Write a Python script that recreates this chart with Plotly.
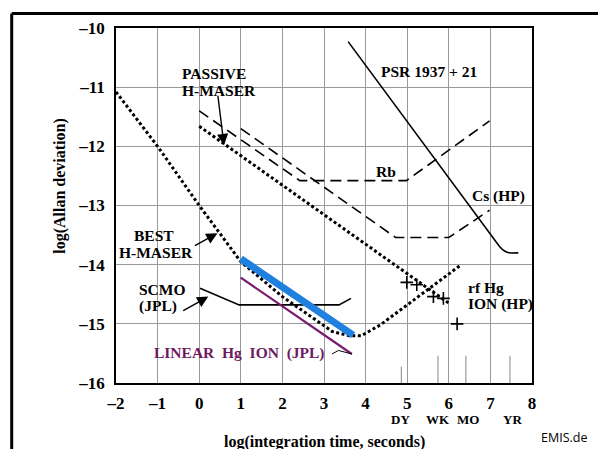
import plotly.graph_objects as go

# ---- data ----
best_maser_x = [-2, -1, 0, 1, 2, 3.2, 3.6, 3.9, 4.35, 6.3]
best_maser_y = [-11.08, -12.0, -13.0, -13.95, -14.54, -15.13, -15.2, -15.2, -15.02, -14.0]

passive_x = [0, 6.0]
passive_y = [-11.66, -14.65]

rb_x = [0, 2.42, 4.98, 6.98]
rb_y = [-11.40, -12.58, -12.58, -11.57]

cs_x = [1, 4.72, 6.0, 6.98]
cs_y = [-11.70, -13.54, -13.54, -13.08]

psr_x = [3.58, 7.21, 7.30, 7.44, 7.67]
psr_y = [-10.23, -13.685, -13.75, -13.80, -13.80]

scmo_x = [0.02, 0.96, 3.36, 3.65]
scmo_y = [-14.40, -14.68, -14.68, -14.57]

blue_x = [1.0, 3.7]
blue_y = [-13.9, -15.19]

linear_x = [1.0, 3.67]
linear_y = [-14.22, -15.51]

leader_x = [3.19, 3.35, 3.67]
leader_y = [-15.51, -15.45, -15.51]

rfhg_x = [4.99, 5.23, 5.63, 5.87, 6.2]
rfhg_y = [-14.30, -14.34, -14.54, -14.57, -15.0]

xticks = [-2, -1, 0, 1, 2, 3, 4, 5, 6, 7, 8]
xticklabels = ["–2", "–1", "0", "1", "2", "3", "4", "5", "6", "7", "8"]
yticks = [-16, -15, -14, -13, -12, -11, -10]
yticklabels = ["–16", "–15", "–14", "–13", "–12", "–11", "–10"]

period_names = ["DY", "WK", "MO", "YR"]
period_x = [4.86, 5.74, 6.41, 7.47]
period_top = [-15.72, -15.54, -15.54, -15.54]
period_label_x = [4.84, 5.74, 6.47, 7.52]

labels = [
    ("PASSIVE", -0.46, -10.77, "left"),
    ("H-MASER", -0.46, -11.06, "left"),
    ("PSR 1937 + 21", 5.53, -10.74, "center"),
    ("Rb", 4.49, -12.43, "center"),
    ("Cs (HP)", 7.19, -12.84, "center"),
    ("BEST", -1.08, -13.51, "center"),
    ("H-MASER", -1.05, -13.80, "center"),
    ("SCMO", -1.49, -14.42, "left"),
    ("(JPL)", -1.49, -14.70, "left"),
    ("rf Hg", 6.42, -14.39, "left"),
    ("ION (HP)", 6.42, -14.66, "left"),
]

arrows = [  # (tail_x, tail_y, head_x, head_y)
    (0.445, -11.12, 0.596, -11.98),
    (-0.14, -13.69, 0.44, -13.47),
    (-0.42, -14.79, 0.22, -14.54),
]

SERIF = "Liberation Serif"
fig = go.Figure()

# short period marker lines at bottom
for px, pt in zip(period_x, period_top):
    fig.add_trace(go.Scatter(x=[px, px], y=[-16, pt], mode="lines",
                             line=dict(color="#9a9a9a", width=1.2),
                             hoverinfo="skip", showlegend=False))

fig.add_trace(go.Scatter(x=rb_x, y=rb_y, mode="lines",
                         line=dict(color="black", width=1.6, dash="11px,6px"), showlegend=False))
fig.add_trace(go.Scatter(x=cs_x, y=cs_y, mode="lines",
                         line=dict(color="black", width=1.6, dash="11px,6px"), showlegend=False))
fig.add_trace(go.Scatter(x=psr_x, y=psr_y, mode="lines", line_shape="spline",
                         line=dict(color="black", width=1.6, smoothing=0.3), showlegend=False))
fig.add_trace(go.Scatter(x=scmo_x, y=scmo_y, mode="lines",
                         line=dict(color="black", width=1.6), showlegend=False))
fig.add_trace(go.Scatter(x=passive_x, y=passive_y, mode="lines",
                         line=dict(color="black", width=3, dash="3px,2.5px"), showlegend=False))
fig.add_trace(go.Scatter(x=best_maser_x, y=best_maser_y, mode="lines",
                         line=dict(color="black", width=3, dash="3px,2.5px"), showlegend=False))
fig.add_trace(go.Scatter(x=linear_x, y=linear_y, mode="lines",
                         line=dict(color="#7a1a6e", width=2.2), showlegend=False))
fig.add_trace(go.Scatter(x=blue_x, y=blue_y, mode="lines",
                         line=dict(color="#1f80e0", width=7), showlegend=False))
fig.add_trace(go.Scatter(x=leader_x, y=leader_y, mode="lines",
                         line=dict(color="black", width=1), showlegend=False))
fig.add_trace(go.Scatter(x=rfhg_x, y=rfhg_y, mode="markers",
                         marker=dict(symbol="cross-thin", size=9,
                                     line=dict(color="black", width=1.6)),
                         showlegend=False))

annotations = []
for text, x, y, anchor in labels:
    annotations.append(dict(x=x, y=y, xref="x", yref="y", text="<b>%s</b>" % text,
                            showarrow=False, xanchor=anchor, yanchor="middle",
                            font=dict(family=SERIF, size=15.5, color="black")))
annotations.append(dict(x=0.98, y=-15.49, xref="x", yref="y",
                        text="<b>LINEAR\u00a0\u00a0Hg\u00a0\u00a0ION\u00a0\u00a0(JPL)</b>",
                        showarrow=False, xanchor="center", yanchor="middle",
                        font=dict(family=SERIF, size=15.5, color="#6e1a62")))
for tx, ty, hx, hy in arrows:
    annotations.append(dict(x=hx, y=hy, ax=tx, ay=ty, xref="x", yref="y",
                            axref="x", ayref="y", text="", showarrow=True,
                            arrowhead=2, arrowsize=1.6, arrowwidth=1.4,
                            arrowcolor="black"))
for name, lx in zip(period_names, period_label_x):
    annotations.append(dict(x=lx, y=-0.102, xref="x", yref="paper", text="<b>%s</b>" % name,
                            showarrow=False, xanchor="center", yanchor="middle",
                            font=dict(family=SERIF, size=13, color="black")))
annotations.append(dict(x=-0.135, y=0.555, xref="paper", yref="paper",
                        text="<b>log(Allan deviation)</b>", textangle=-90,
                        showarrow=False, xanchor="center", yanchor="middle",
                        font=dict(family=SERIF, size=16, color="black")))
annotations.append(dict(x=0.502, y=-0.165, xref="paper", yref="paper",
                        text="<b>log(integration time, seconds)</b>",
                        showarrow=False, xanchor="center", yanchor="middle",
                        font=dict(family=SERIF, size=16, color="black")))
annotations.append(dict(x=1.078, y=-0.153, xref="paper", yref="paper",
                        text="EMIS.de", showarrow=False, xanchor="center", yanchor="middle",
                        font=dict(family="Open Sans", size=12.5, color="black")))

# outer frame (open at the bottom)
fx0, fx1, fy1, fy0 = -0.2507, 1.1743, 1.0408, -0.3
frame = [
    dict(type="line", xref="paper", yref="paper", x0=fx0, x1=fx0, y0=fy0, y1=fy1,
         line=dict(color="black", width=3)),
    dict(type="line", xref="paper", yref="paper", x0=fx1, x1=fx1, y0=fy0, y1=fy1,
         line=dict(color="black", width=3)),
    dict(type="line", xref="paper", yref="paper", x0=fx0, x1=fx1, y0=fy1, y1=fy1,
         line=dict(color="black", width=3)),
]

# the page body keeps its default 8px margin, so the figure is sized to end
# exactly at the 606x449 window edge
fig.update_layout(
    width=598, height=441,
    margin=dict(l=108, r=74, t=20, b=66),
    paper_bgcolor="white", plot_bgcolor="white",
    annotations=annotations,
    shapes=frame,
)
fig.update_xaxes(range=[-2, 8], tickvals=xticks, ticktext=xticklabels,
                 showgrid=True, gridcolor="#9a9a9a", gridwidth=1.2,
                 showline=True, linecolor="black", linewidth=1.8, mirror=True,
                 zeroline=False, ticks="", ticklabelstandoff=4,
                 tickfont=dict(family=SERIF, size=17, color="black", weight="bold"))
fig.update_yaxes(range=[-16, -10], tickvals=yticks, ticktext=yticklabels,
                 showgrid=True, gridcolor="#9a9a9a", gridwidth=1.2,
                 showline=True, linecolor="black", linewidth=1.8, mirror=True,
                 zeroline=False, ticks="", ticklabelstandoff=6,
                 tickfont=dict(family=SERIF, size=17, color="black", weight="bold"))

fig.write_html("out.html", config={"displayModeBar": False})
